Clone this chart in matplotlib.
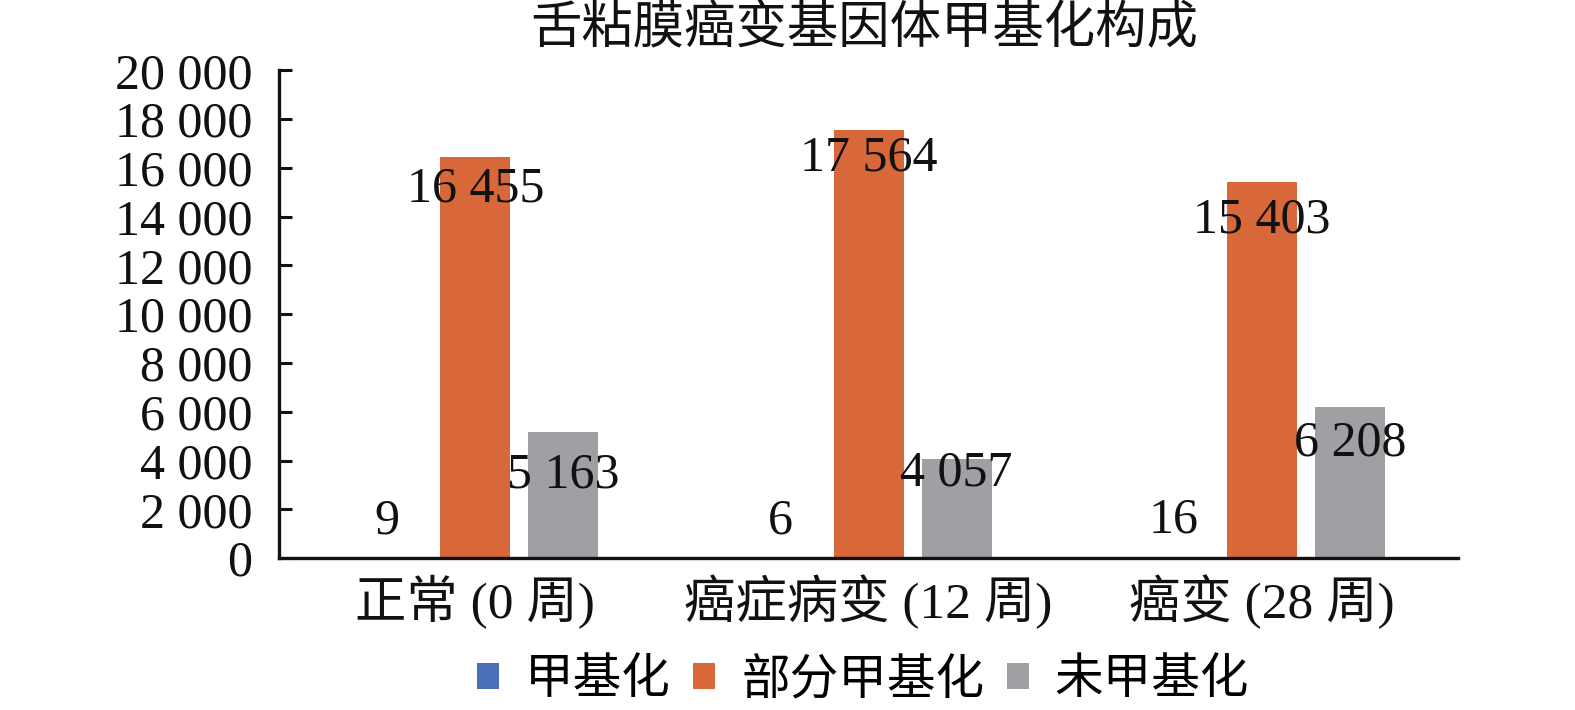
import matplotlib
matplotlib.use("Agg")
import matplotlib.pyplot as plt
from matplotlib.ticker import FuncFormatter, MultipleLocator
import numpy as np

plt.rcParams['font.family'] = ['Liberation Serif', 'Noto Sans CJK SC', 'DejaVu Sans']

title = "舌粘膜癌变基因体甲基化构成"
categories = ["正常 (0 周)", "癌症病变 (12 周)", "癌变 (28 周)"]
series_names = ["甲基化", "部分甲基化", "未甲基化"]
methylated = [9, 6, 16]
partial = [16455, 17564, 15403]
unmethylated = [5163, 4057, 6208]

colors = ['#4A6FB8', '#D8683A', '#9FA0A4']
# label offsets from bar top (pixels, negative = below top)
label_dy = [[37, 37, 37], [-33, -29, -38], [-43, -14, -37]]

fig = plt.figure(figsize=(15.75, 7.1), dpi=100)
ax = fig.add_axes([0.177, 0.214, 0.749, 0.687])

x = np.arange(len(categories))
width = 0.178
step = 0.224
all_series = [methylated, partial, unmethylated]

for i, vals in enumerate(all_series):
    pos = x + (i - 1) * step
    ax.bar(pos, vals, width=width, color=colors[i], label=series_names[i], zorder=2)
    for j, v in enumerate(vals):
        ax.annotate("{:,}".format(v).replace(",", " "), (pos[j], v),
                    xytext=(0, label_dy[i][j] * 0.72), textcoords='offset points',
                    ha='center', va='center', fontsize=36, color='#111111', zorder=3)

ax.set_xlim(-0.5, 2.5)
ax.set_ylim(0, 20000)
ax.yaxis.set_major_locator(MultipleLocator(2000))
ax.yaxis.set_major_formatter(FuncFormatter(lambda v, p: "{:,.0f}".format(v).replace(",", " ")))
ax.set_xticks(x)
ax.set_xticklabels(categories)

for s in ['top', 'right']:
    ax.spines[s].set_visible(False)
for s in ['left', 'bottom']:
    ax.spines[s].set_linewidth(2.4)
    ax.spines[s].set_color('#111111')

ax.tick_params(axis='y', direction='in', length=9, width=2.2, pad=19, labelsize=36,
               colors='#111111')
ax.tick_params(axis='x', length=0, pad=12, labelsize=37, colors='#111111')

fig.text(0.549, 0.958, title, ha='center', va='center', fontsize=37, color='#111111')

fig.legend(loc='center', bbox_to_anchor=(0.548, 0.042), ncol=3, frameon=False,
           fontsize=35, handlelength=0.45, handleheight=0.45, handletextpad=0.53,
           columnspacing=0.47)

fig.savefig("out.png", dpi=100)
